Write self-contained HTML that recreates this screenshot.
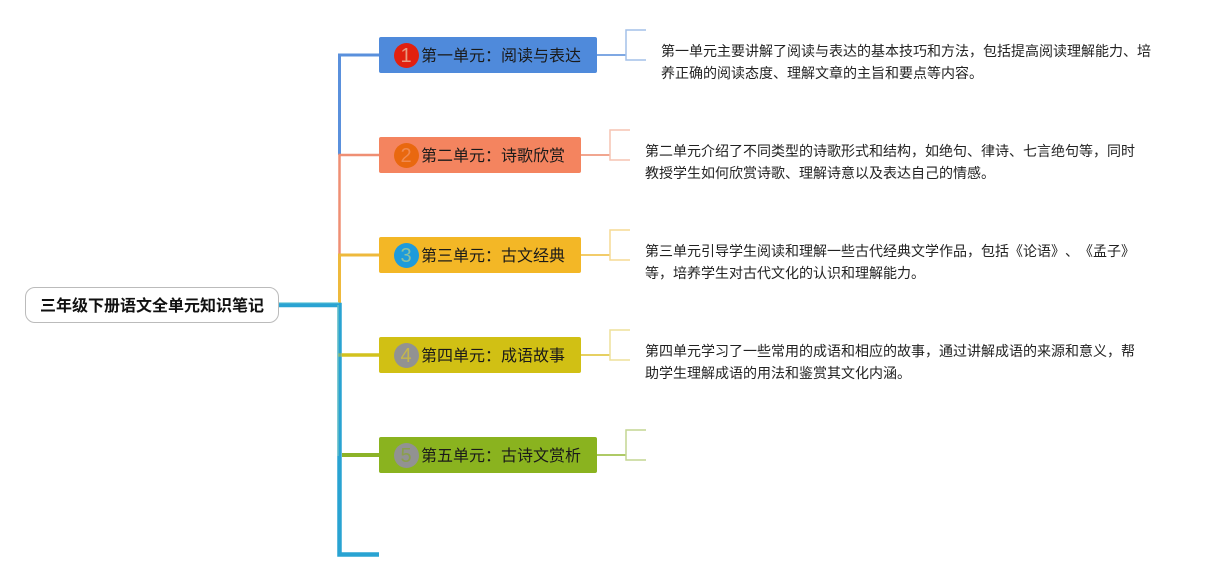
<!DOCTYPE html>
<html lang="zh">
<head>
<meta charset="utf-8">
<style>
html,body{margin:0;padding:0;background:#fff}
body{width:1221px;height:580px;position:relative;overflow:hidden;font-family:"Liberation Sans","Noto Sans CJK SC",sans-serif;color:#111;text-spacing-trim:space-all}
svg{position:absolute;left:0;top:0}
.root{position:absolute;left:25px;top:287px;width:252px;height:34px;border:1px solid #bbb;border-radius:10px;background:#fff;font-size:16px;font-weight:bold;line-height:37px;text-align:center;color:#111;white-space:nowrap}
.node{position:absolute;height:36px;border-radius:2px;font-size:16px;line-height:39px;white-space:nowrap;color:#1a1a1a}
.node span.t{position:absolute;left:42.5px;top:0}
.c{position:absolute;left:15px;top:5.5px;width:25px;height:25px;border-radius:50%;font-size:20px;line-height:26px;text-align:center}
.p{position:absolute;width:500px;font-size:14px;line-height:21.5px;color:#222;white-space:nowrap}
</style>
</head>
<body>
<svg width="1221" height="580" viewBox="0 0 1221 580" fill="none">
  <path d="M379 55H339.5V155" stroke="#5a90dc" stroke-width="3"/>
  <path d="M379 155H339.5V255" stroke="#ef8f74" stroke-width="2.5"/>
  <path d="M379 255H339.5V305" stroke="#eeb93c" stroke-width="3"/>
  <path d="M279 305H339.5V554.5H379" stroke="#29a3d2" stroke-width="4.5"/>
  <path d="M279 302.8H339" stroke="#7dd0dc" stroke-width="1"/>
  <path d="M342 355H379" stroke="#d2c21e" stroke-width="3.5"/>
  <path d="M338 355H342" stroke="#d2c21e" stroke-width="3.5" opacity=".5"/>
  <path d="M342 455H379" stroke="#8cb328" stroke-width="4"/>
  <path d="M338 305V456" stroke="#8fd0c0" stroke-width="1.2" opacity=".7"/>
  <path d="M596 55H626" stroke="#6d9cdf" stroke-width="1.8"/>
  <path d="M646 30H626V60H646" stroke="#a3c0e8" stroke-width="1.5"/>
  <path d="M580 155H610" stroke="#ef9a80" stroke-width="1.8"/>
  <path d="M630 130H610V160H630" stroke="#f5c4b2" stroke-width="1.5"/>
  <path d="M580 255H610" stroke="#f1c454" stroke-width="1.8"/>
  <path d="M630 230H610V260H630" stroke="#f6da94" stroke-width="1.5"/>
  <path d="M580 355H610" stroke="#e2ca4c" stroke-width="1.8"/>
  <path d="M630 330H610V360H630" stroke="#eee09a" stroke-width="1.5"/>
  <path d="M596 455H626" stroke="#a3c250" stroke-width="1.8"/>
  <path d="M646 430H626V460H646" stroke="#c4d592" stroke-width="1.5"/>
</svg>

<div class="root">三年级下册语文全单元知识笔记</div>

<div class="node" style="left:378.5px;top:37px;width:218px;background:#4f8adb">
  <div class="c" style="background:#e1200f;color:#e89a80">1</div><span class="t">第一单元：阅读与表达</span>
</div>
<div class="node" style="left:378.5px;top:137px;width:202px;background:#f4845f">
  <div class="c" style="background:#e9680f;color:#f08a50">2</div><span class="t">第二单元：诗歌欣赏</span>
</div>
<div class="node" style="left:378.5px;top:237px;width:202px;background:#f3b726">
  <div class="c" style="background:#1e9bdb;color:#8cc0a0">3</div><span class="t">第三单元：古文经典</span>
</div>
<div class="node" style="left:378.5px;top:337px;width:202px;background:#d1c014">
  <div class="c" style="background:#929292;color:#c4b64c">4</div><span class="t">第四单元：成语故事</span>
</div>
<div class="node" style="left:378.5px;top:437px;width:218px;background:#8ab31f">
  <div class="c" style="background:#929292;color:#8a9f4c">5</div><span class="t">第五单元：古诗文赏析</span>
</div>

<div class="p" style="left:661px;top:41px">第一单元主要讲解了阅读与表达的基本技巧和方法，包括提高阅读理解能力、培<br>养正确的阅读态度、理解文章的主旨和要点等内容。</div>
<div class="p" style="left:645px;top:141px">第二单元介绍了不同类型的诗歌形式和结构，如绝句、律诗、七言绝句等，同时<br>教授学生如何欣赏诗歌、理解诗意以及表达自己的情感。</div>
<div class="p" style="left:645px;top:241px">第三单元引导学生阅读和理解一些古代经典文学作品，包括《论语》、《孟子》<br>等，培养学生对古代文化的认识和理解能力。</div>
<div class="p" style="left:645px;top:341px">第四单元学习了一些常用的成语和相应的故事，通过讲解成语的来源和意义，帮<br>助学生理解成语的用法和鉴赏其文化内涵。</div>
</body>
</html>
